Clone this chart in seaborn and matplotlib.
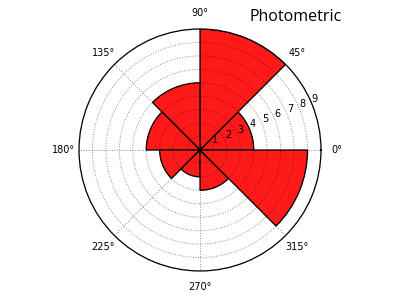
import numpy as np
import matplotlib
matplotlib.use("Agg")
import matplotlib.pyplot as plt
import seaborn as sns

sns.set_style("white")
plt.rcParams['font.family'] = ['DejaVu Sans']
plt.rcParams['text.color'] = 'black'
plt.rcParams['xtick.color'] = 'black'
plt.rcParams['ytick.color'] = 'black'

# Data
sector_start_deg = [0, 45, 90, 135, 180, 225, 270, 315]
values = [4, 9, 5, 4, 3, 2, 3, 8]
radial_ticks = [1, 2, 3, 4, 5, 6, 7, 8, 9]
angle_ticks = [0, 45, 90, 135, 180, 225, 270, 315]
angle_labels = ["0°", "45°", "90°", "135°", "180°", "225°", "270°", "315°"]
title = "Photometric"

fig = plt.figure(figsize=(4, 3), dpi=100)
ax = fig.add_axes([0.1975, 0.0967, 0.605, 0.8067], projection='polar')

theta = np.deg2rad(sector_start_deg)
width = np.deg2rad(45)
ax.bar(theta, values, width=width, align='edge', color=(1, 0.1, 0.1),
       edgecolor='black', linewidth=0.9, zorder=1)

ax.set_ylim(0, 9)
ax.set_yticks(radial_ticks)
ax.set_yticklabels([str(t) for t in radial_ticks], fontsize=7, color='black')
ax.set_rlabel_position(22.5)
ax.set_xticks(np.deg2rad(angle_ticks))
ax.set_xticklabels(angle_labels, fontsize=7, color='black')
ax.tick_params(axis='x', pad=1)
ax.set_axisbelow(False)
ax.grid(True, color='black', alpha=0.45, linestyle=':', linewidth=0.7)
ax.spines['polar'].set_linewidth(0.9)
ax.spines['polar'].set_color('black')

fig.text(0.74, 0.942, title, fontsize=11.5, family='Open Sans', color='black',
         ha='center', va='center')

fig.savefig("out.png", dpi=100)
